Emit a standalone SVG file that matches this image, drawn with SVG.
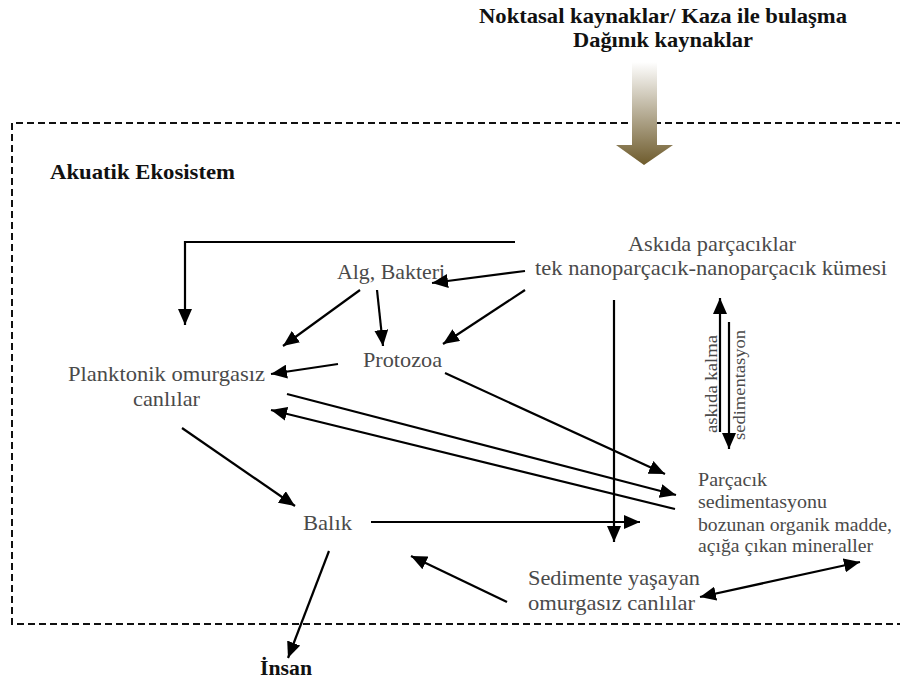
<svg xmlns="http://www.w3.org/2000/svg" width="900" height="687" viewBox="0 0 900 687">
<defs>
<linearGradient id="g" x1="0" y1="0" x2="0" y2="1">
<stop offset="0" stop-color="#ffffff"/>
<stop offset="1" stop-color="#6e5b2c"/>
</linearGradient>
<marker id="a" viewBox="0 0 16 14" refX="16" refY="7" markerWidth="16" markerHeight="14" markerUnits="userSpaceOnUse" orient="auto-start-reverse">
<path d="M0,0 L16,7 L0,14 z" fill="#000"/>
</marker>
</defs>
<style>
.t{fill:#4a4a4a;font-size:22px}
.b{fill:#111;font-weight:bold}
.s{fill:#4a4a4a;font-size:19.5px}
.v{fill:#4a4a4a;font-size:16px}
.c{fill:none;stroke:#000;stroke-width:2.2}
.box{fill:none;stroke:#111;stroke-width:2;stroke-dasharray:7 4}
</style>
<rect width="900" height="687" fill="#fff"/>
<g font-family="Liberation Serif, Times New Roman, serif">
<g id="ecosystem-box">
<path class="box" d="M903,123 L12,123 L12,624 L903,624"/>
<text class="b" x="50" y="179" font-size="21.5" textLength="185" lengthAdjust="spacingAndGlyphs">Akuatik Ekosistem</text>
</g>
<g id="sources">
<text class="b" x="479" y="23" font-size="22" textLength="368" lengthAdjust="spacingAndGlyphs">Noktasal kaynaklar/ Kaza ile bulaşma</text>
<text class="b" x="573" y="47" font-size="22" textLength="180" lengthAdjust="spacingAndGlyphs">Dağınık kaynaklar</text>
<path d="M632,62 L657,62 L657,145 L673,145 L644,165 L616,145 L632,145 z" fill="url(#g)"/>
</g>
<g id="askida">
<text class="t" x="628" y="251" textLength="168" lengthAdjust="spacingAndGlyphs">Askıda parçacıklar</text>
<text class="t" x="535" y="275" textLength="352" lengthAdjust="spacingAndGlyphs">tek nanoparçacık-nanoparçacık kümesi</text>
</g>
<g id="alg"><text class="t" x="337" y="279" textLength="108" lengthAdjust="spacingAndGlyphs">Alg, Bakteri</text></g>
<g id="protozoa"><text class="t" x="363" y="367" textLength="79" lengthAdjust="spacingAndGlyphs">Protozoa</text></g>
<g id="planktonik">
<text class="t" x="68" y="381" textLength="197" lengthAdjust="spacingAndGlyphs">Planktonik omurgasız</text>
<text class="t" x="133" y="406" textLength="67" lengthAdjust="spacingAndGlyphs">canlılar</text>
</g>
<g id="balik"><text class="t" x="303" y="530" textLength="49" lengthAdjust="spacingAndGlyphs">Balık</text></g>
<g id="insan"><text class="b" x="260" y="675" font-size="22" textLength="52" lengthAdjust="spacingAndGlyphs">İnsan</text></g>
<g id="sediment">
<text class="s" x="698" y="486" textLength="69" lengthAdjust="spacingAndGlyphs">Parçacık</text>
<text class="s" x="698" y="508" textLength="129" lengthAdjust="spacingAndGlyphs">sedimentasyonu</text>
<text class="s" x="698" y="531" textLength="194" lengthAdjust="spacingAndGlyphs">bozunan organik madde,</text>
<text class="s" x="698" y="552" textLength="175" lengthAdjust="spacingAndGlyphs">açığa çıkan mineraller</text>
</g>
<g id="sedimente">
<text class="t" x="528" y="585" textLength="172" lengthAdjust="spacingAndGlyphs">Sedimente yaşayan</text>
<text class="t" x="528" y="610" textLength="167" lengthAdjust="spacingAndGlyphs">omurgasız canlılar</text>
</g>
<g id="vertical-labels">
<text class="v" transform="translate(717,433) rotate(-90)" textLength="98" lengthAdjust="spacingAndGlyphs">askıda kalma</text>
<text class="v" transform="translate(745,440) rotate(-90)" textLength="110" lengthAdjust="spacingAndGlyphs">sedimentasyon</text>
</g>
</g>
<g id="connectors">
<path class="c" d="M515,242 L185,242 L185,325" marker-end="url(#a)"/>
<line class="c" x1="525" y1="271" x2="432" y2="283" marker-end="url(#a)"/>
<line class="c" x1="525" y1="290" x2="443" y2="344" marker-end="url(#a)"/>
<line class="c" x1="360" y1="290" x2="283" y2="346" marker-end="url(#a)"/>
<line class="c" x1="377" y1="290" x2="383" y2="346" marker-end="url(#a)"/>
<line class="c" x1="338" y1="364" x2="271" y2="374" marker-end="url(#a)"/>
<line class="c" x1="287" y1="394" x2="676" y2="495" marker-end="url(#a)"/>
<line class="c" x1="675" y1="509" x2="271" y2="410" marker-end="url(#a)"/>
<line class="c" x1="445" y1="373" x2="665" y2="474" marker-end="url(#a)"/>
<line class="c" x1="614" y1="300" x2="614" y2="542" marker-end="url(#a)"/>
<line class="c" x1="182" y1="428" x2="295" y2="506" marker-end="url(#a)"/>
<line class="c" x1="371" y1="522" x2="640" y2="522" marker-end="url(#a)"/>
<line class="c" x1="507" y1="602" x2="411" y2="556" marker-end="url(#a)"/>
<line class="c" x1="329" y1="551" x2="288" y2="658" marker-end="url(#a)"/>
<line class="c" x1="700" y1="597" x2="860" y2="562" marker-start="url(#a)" marker-end="url(#a)"/>
<line class="c" x1="720" y1="432" x2="720" y2="298" marker-end="url(#a)"/>
<line class="c" x1="729" y1="322" x2="729" y2="449" marker-end="url(#a)"/>
</g>
</svg>
